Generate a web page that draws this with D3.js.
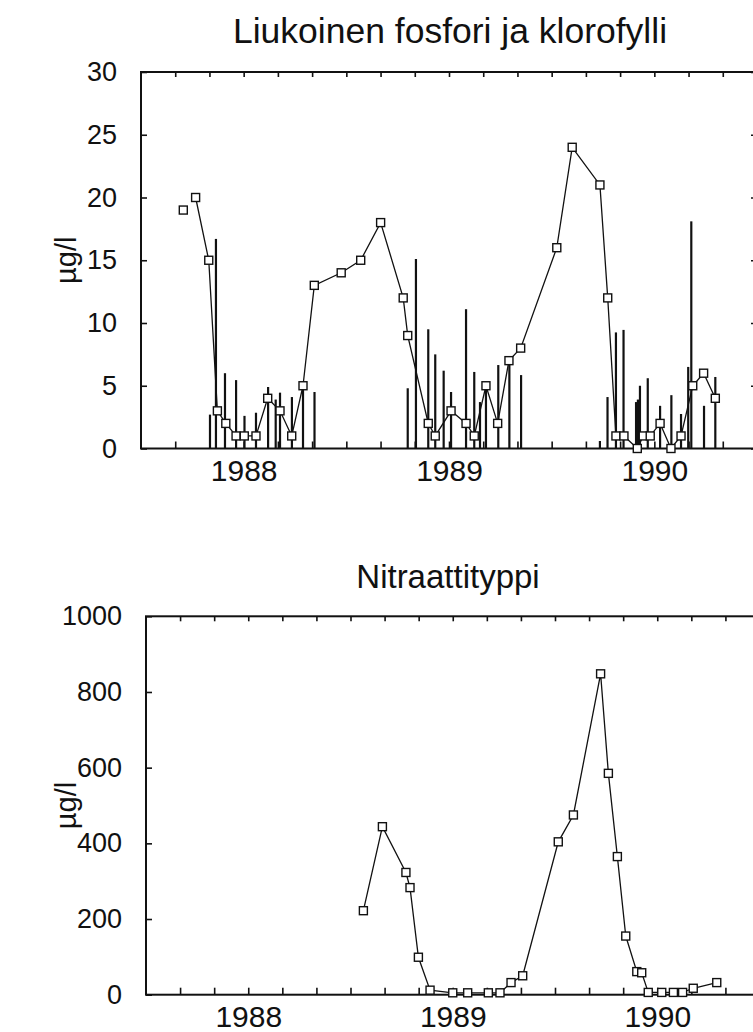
<!DOCTYPE html>
<html>
<head>
<meta charset="utf-8">
<script src="https://cdn.jsdelivr.net/npm/d3@7"></script>
<style>
  html, body { margin: 0; padding: 0; background: #fff; }
  svg { display: block; }
  text { font-family: "Liberation Sans", Arial, Helvetica, sans-serif; fill: #111; }
</style>
</head>
<body>
<svg id="chart" width="753" height="1032"></svg>
<script>
// ---------------- DATA ----------------
// Dissolved phosphorus (µg/l), decimal year
const pYears = [1988.206, 1988.266, 1988.330, 1988.372, 1988.413, 1988.463, 1988.503, 1988.560,
  1988.617, 1988.677, 1988.734, 1988.789, 1988.844, 1988.975, 1989.070, 1989.167, 1989.277,
  1989.299, 1989.399, 1989.433, 1989.510, 1989.583, 1989.623, 1989.680, 1989.737, 1989.792,
  1989.849, 1990.025, 1990.100, 1990.235, 1990.273, 1990.313, 1990.352, 1990.417, 1990.446,
  1990.480, 1990.528, 1990.581, 1990.630, 1990.687, 1990.740, 1990.797];
const pValues = [19, 20, 15, 3, 2, 1, 1, 1,
  4, 3, 1, 5, 13, 14, 15, 18, 12,
  9, 2, 1, 3, 2, 1, 5, 2, 7,
  8, 16, 24, 21, 12, 1, 1, 0, 1,
  1, 2, 0, 1, 5, 6, 4];
const pLineFrom = 1; // first sample stands alone (not joined)

// Chlorophyll (µg/l), decimal year
const chlYears = [1988.336, 1988.365, 1988.409, 1988.463, 1988.504, 1988.560, 1988.619, 1988.656,
  1988.677, 1988.735, 1988.789, 1988.845, 1989.299, 1989.339, 1989.399, 1989.433, 1989.474,
  1989.510, 1989.583, 1989.623, 1989.651, 1989.680, 1989.740, 1989.794, 1989.851, 1990.235,
  1990.272, 1990.313, 1990.350, 1990.411, 1990.420, 1990.430, 1990.468, 1990.528, 1990.583,
  1990.630, 1990.665, 1990.680, 1990.742, 1990.797];
const chlValues = [2.7, 16.7, 6.0, 5.45, 2.6, 2.85, 4.9, 3.9,
  4.45, 4.1, 5.2, 4.5, 4.8, 15.1, 9.5, 7.5, 6.2,
  4.5, 11.1, 6.1, 3.7, 5.3, 6.65, 7.1, 5.85, 0.6,
  4.1, 9.25, 9.45, 3.7, 3.9, 5.0, 5.6, 3.4, 4.25,
  2.75, 6.5, 18.1, 3.4, 5.7];

// Nitrate nitrogen (µg/l), decimal year
const nYears = [1989.063, 1989.156, 1989.271, 1989.291, 1989.332, 1989.389, 1989.500, 1989.573,
  1989.674, 1989.731, 1989.785, 1989.842, 1990.016, 1990.090, 1990.223, 1990.261, 1990.305,
  1990.346, 1990.400, 1990.424, 1990.456, 1990.522, 1990.579, 1990.624, 1990.676, 1990.791];
const nValues = [222, 444, 323, 283, 99, 12, 5, 5,
  5, 5, 32, 50, 404, 475, 848, 585, 365,
  155, 61, 58, 6, 6, 6, 6, 17, 32];

// Axes
const yearLabels = ["1988", "1989", "1990"];
const yearLabelPos = [1988.5, 1989.5, 1990.5];
const xDomain = [1988, 1991];
const pTicks = [0, 5, 10, 15, 20, 25, 30];
const nTicks = [0, 200, 400, 600, 800, 1000];
const title1 = "Liukoinen fosfori ja klorofylli";
const title2 = "Nitraattityppi";
const yTitle = "µg/l";

// ---------------- DRAW ----------------
const svg = d3.select("#chart");
svg.append("rect").attr("width", 753).attr("height", 1032).attr("fill", "#fff");

const xMinorTicks = d3.range(1, 18).map(k => xDomain[0] + k / 6);

function panel(opt) {
  const x = d3.scaleLinear().domain(xDomain).range(opt.xRange);
  const y = d3.scaleLinear().domain(opt.yDomain).range(opt.yRange);
  const g = svg.append("g");
  const L = x(xDomain[0]), R = x(xDomain[1]), T = y(opt.yDomain[1]), B = y(0);

  // title
  g.append("text").attr("x", opt.titleX).attr("y", opt.titleY)
    .attr("text-anchor", "middle").attr("font-size", opt.titleSize).text(opt.title);

  // frame
  g.append("rect").attr("x", L).attr("y", T).attr("width", R - L).attr("height", B - T)
    .attr("fill", "none").attr("stroke", "#111").attr("stroke-width", 2);

  const axT = g.append("g").attr("transform", `translate(0,${T})`)
    .call(d3.axisTop(x).tickValues(xMinorTicks).tickSize(-5).tickSizeOuter(0).tickFormat(""));
  const axB = g.append("g").attr("transform", `translate(0,${B})`)
    .call(d3.axisBottom(x).tickValues(xMinorTicks).tickSize(-7).tickSizeOuter(0).tickFormat(""));
  const axL = g.append("g").attr("transform", `translate(0,${B})`)
    .call(d3.axisBottom(x).tickValues(yearLabelPos).tickSize(0).tickPadding(opt.xLabelPad)
      .tickFormat((d, i) => yearLabels[i]));
  axL.selectAll("text").attr("font-size", opt.xLabelSize).style("font-family", null);
  const axY = g.append("g").attr("transform", `translate(${L},0)`)
    .call(d3.axisLeft(y).tickValues(opt.yTicks).tickSize(-6).tickSizeOuter(0)
      .tickPadding(opt.yLabelPad).tickFormat(d3.format("d")));
  axY.selectAll("text").attr("font-size", opt.yLabelSize).style("font-family", null);
  const axR = g.append("g").attr("transform", `translate(${R},0)`)
    .call(d3.axisRight(y).tickValues(opt.yTicks).tickSize(-6).tickSizeOuter(0).tickFormat(""));
  [axT, axB, axL, axY, axR].forEach(a => {
    a.select(".domain").remove();
    a.selectAll("line").attr("stroke", "#111").attr("stroke-width", 1.6);
    a.selectAll("text").attr("fill", "#111");
  });

  g.append("text").attr("transform", `translate(${opt.yTitleX},${(T + B) / 2}) rotate(-90)`)
    .attr("text-anchor", "middle").attr("font-size", opt.yTitleSize).text(yTitle);

  return { g, x, y, B };
}

// Panel 1: phosphorus + chlorophyll
const p1 = panel({
  xRange: [141, 757], yDomain: [0, 30], yRange: [448.5, 72], yTicks: pTicks,
  title: title1, titleX: 450, titleY: 43, titleSize: 35.5,
  xLabelPad: 11, xLabelSize: 30, yLabelPad: 24, yLabelSize: 27,
  yTitleX: 76, yTitleSize: 29
});
p1.g.append("g").selectAll("line").data(chlYears.map((d, i) => [d, chlValues[i]])).join("line")
  .attr("x1", d => p1.x(d[0])).attr("x2", d => p1.x(d[0]))
  .attr("y1", p1.y(0)).attr("y2", d => p1.y(d[1]))
  .attr("stroke", "#111").attr("stroke-width", 2.2);
const pData = pYears.map((d, i) => [d, pValues[i]]);
p1.g.append("path").datum(pData.slice(pLineFrom))
  .attr("d", d3.line().x(d => p1.x(d[0])).y(d => p1.y(d[1])))
  .attr("fill", "none").attr("stroke", "#111").attr("stroke-width", 1.3);
p1.g.append("g").selectAll("rect").data(pData).join("rect")
  .attr("x", d => p1.x(d[0]) - 4).attr("y", d => p1.y(d[1]) - 4)
  .attr("width", 8).attr("height", 8)
  .attr("fill", "#fff").attr("stroke", "#111").attr("stroke-width", 1.4);

// Panel 2: nitrate
const p2 = panel({
  xRange: [146, 759.5], yDomain: [0, 1000], yRange: [994.7, 616.3], yTicks: nTicks,
  title: title2, titleX: 448, titleY: 588, titleSize: 33,
  xLabelPad: 11, xLabelSize: 30, yLabelPad: 24, yLabelSize: 27,
  yTitleX: 76, yTitleSize: 29
});
const nData = nYears.map((d, i) => [d, nValues[i]]);
p2.g.append("path").datum(nData)
  .attr("d", d3.line().x(d => p2.x(d[0])).y(d => p2.y(d[1])))
  .attr("fill", "none").attr("stroke", "#111").attr("stroke-width", 1.3);
p2.g.append("g").selectAll("rect").data(nData).join("rect")
  .attr("x", d => p2.x(d[0]) - 4).attr("y", d => p2.y(d[1]) - 4)
  .attr("width", 8).attr("height", 8)
  .attr("fill", "#fff").attr("stroke", "#111").attr("stroke-width", 1.4);
</script>
</body>
</html>
